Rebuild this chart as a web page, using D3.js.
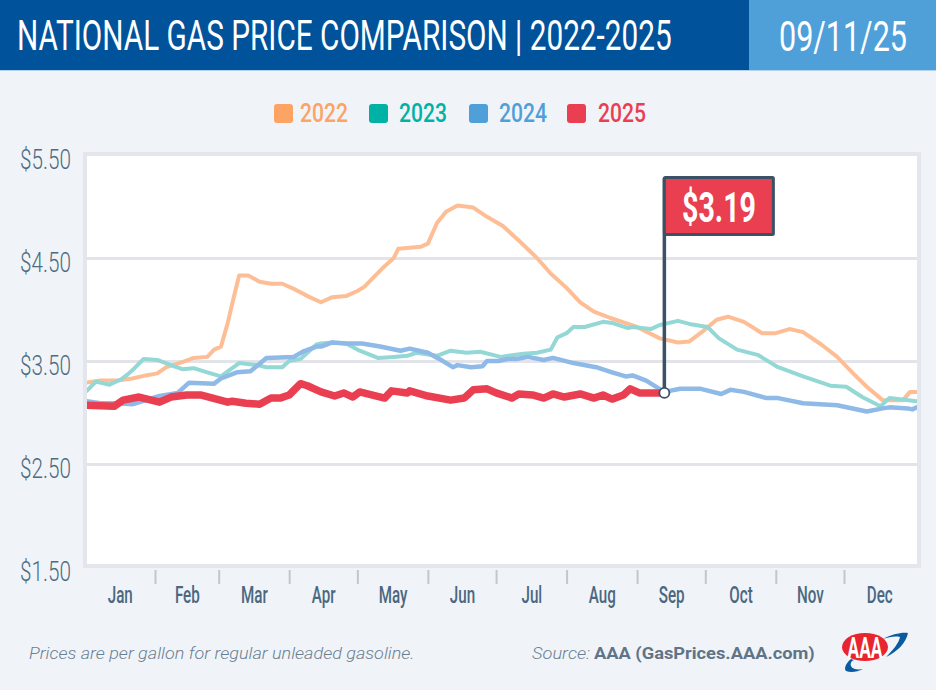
<!DOCTYPE html>
<html><head><meta charset="utf-8">
<script src="https://cdn.jsdelivr.net/npm/d3@7/dist/d3.min.js"></script>
<style>html,body{margin:0;padding:0;background:#f0f4f9}svg{display:block}text{font-family:Roboto,sans-serif}</style>
</head><body><div id="c"></div>
<script>
const months=["Jan","Feb","Mar","Apr","May","Jun","Jul","Aug","Sep","Oct","Nov","Dec"];
const monthEnds=[31,59,90,120,151,181,212,243,273,304,334];
const monthMids=[15.5,45,74.5,105,135.5,166,196.5,227.5,258,288.5,319,349.5];
const priceTicks=[1.5,2.5,3.5,4.5,5.5];
const years=["2022","2023","2024","2025"];
const days2022=[1,7,14,21,27,32,36,43,48,54,57,60,63,65,68,72,77,82,87,93,99,104,109,115,120,123,127,131,136,138,148,151,155,159,164,171,177,184,191,199,205,212,218,224,231,239,243,253,261,266,272,278,283,290,298,304,310,316,324,331,338,344,351,360,363,366];
const prices2022=[3.29,3.31,3.31,3.33,3.36,3.38,3.44,3.49,3.53,3.54,3.61,3.64,3.87,4.06,4.33,4.33,4.27,4.25,4.25,4.19,4.12,4.07,4.12,4.13,4.18,4.22,4.31,4.40,4.50,4.59,4.61,4.64,4.84,4.95,5.01,4.99,4.90,4.81,4.67,4.50,4.35,4.21,4.07,3.98,3.92,3.86,3.83,3.72,3.68,3.69,3.79,3.90,3.93,3.88,3.77,3.77,3.81,3.78,3.66,3.54,3.38,3.25,3.12,3.12,3.20,3.20];
const days2023=[1,5,11,16,19,22,26,32,38,43,48,54,60,63,68,76,80,87,90,95,102,104,109,115,121,129,136,142,146,155,161,168,174,183,193,199,205,208,212,215,220,228,232,239,241,249,253,261,266,274,279,287,296,305,316,328,335,342,350,354,366];
const prices2023=[3.21,3.30,3.27,3.32,3.37,3.43,3.52,3.51,3.46,3.42,3.43,3.39,3.35,3.40,3.48,3.46,3.44,3.44,3.50,3.52,3.66,3.67,3.68,3.67,3.60,3.53,3.54,3.55,3.58,3.55,3.60,3.58,3.59,3.54,3.57,3.58,3.61,3.73,3.77,3.83,3.83,3.88,3.87,3.82,3.83,3.81,3.85,3.89,3.86,3.83,3.72,3.61,3.56,3.44,3.35,3.26,3.25,3.15,3.06,3.14,3.11];
const days2024=[1,7,14,21,27,33,41,46,57,60,67,73,80,92,96,102,104,109,115,122,130,139,143,151,156,162,164,170,175,177,182,186,190,195,202,206,215,225,232,238,241,247,255,262,271,280,284,290,300,305,316,331,344,351,354,362,364,366];
const prices2024=[3.11,3.09,3.09,3.08,3.12,3.16,3.19,3.29,3.28,3.33,3.39,3.40,3.53,3.54,3.59,3.64,3.64,3.68,3.67,3.67,3.64,3.60,3.62,3.58,3.52,3.44,3.46,3.44,3.45,3.50,3.50,3.52,3.52,3.54,3.51,3.53,3.48,3.44,3.39,3.35,3.36,3.31,3.20,3.23,3.23,3.18,3.22,3.20,3.14,3.14,3.09,3.07,3.01,3.04,3.05,3.04,3.03,3.05];
const days2025=[1,13,17,24,33,38,45,51,63,65,71,77,82,86,90,95,98,104,110,114,118,121,132,135,142,143,151,161,167,171,177,181,188,191,197,202,206,211,218,224,228,232,237,240,244,255];
const prices2025=[3.07,3.06,3.12,3.15,3.10,3.15,3.17,3.17,3.10,3.11,3.09,3.08,3.14,3.14,3.17,3.28,3.26,3.20,3.16,3.19,3.15,3.20,3.14,3.21,3.19,3.21,3.16,3.12,3.14,3.22,3.23,3.19,3.14,3.18,3.17,3.14,3.18,3.15,3.18,3.14,3.17,3.13,3.17,3.23,3.19,3.19];
const currentDay=255, currentPrice=3.19;

const svg=d3.select("#c").append("svg").attr("width",936).attr("height",690);
svg.append("rect").attr("width",936).attr("height",690).attr("fill","#f0f4f9");
// text squeezed horizontally to a measured width
function fit(sel,px,py,w){
  const n=sel.node().getComputedTextLength();
  sel.attr("transform",`translate(${px},${py}) scale(${w/n},1)`);
  return sel;
}
// header
svg.append("rect").attr("width",749).attr("height",70).attr("fill","#00529b");
svg.append("rect").attr("x",749).attr("width",187).attr("height",70).attr("fill","#4f9fd9");
svg.append("rect").attr("y",70).attr("width",936).attr("height",1).attr("fill","#b5d0ea");
fit(svg.append("text").attr("fill","#fff").attr("font-size",42).attr("font-weight",400).text("NATIONAL GAS PRICE COMPARISON | 2022-2025"),17,50,655);
fit(svg.append("text").attr("fill","#fff").attr("font-size",42).attr("font-weight",400).text("09/11/25"),779,51,128);
// legend
const legendColors=["#fda364","#00b2a6","#4f9fd9","#e93f50"];
const legendSwatchX=[274,369,469,567], legendTextX=[300,399,499,598];
years.forEach((yr,i)=>{
  svg.append("rect").attr("x",legendSwatchX[i]).attr("y",104).attr("width",19).attr("height",19).attr("rx",3).attr("fill",legendColors[i]);
  fit(svg.append("text").attr("fill",legendColors[i]).attr("font-size",25).attr("font-weight",500).text(yr),legendTextX[i],122,48);
});
// scales
const x=d3.scaleLinear().domain([0,365]).range([84.5,914.5]);
const y=d3.scaleLinear().domain([1.5,5.5]).range([567,155]);
const L=87,R=917;
svg.append("rect").attr("x",L-2).attr("y",y(5.5)-1).attr("width",R-L+4).attr("height",y(1.5)-y(5.5)).attr("fill","#fff")
  .attr("stroke","#e3e6ec").attr("stroke-width",4);
const defs=svg.append("defs");
defs.append("clipPath").attr("id","plot").append("rect").attr("x",L).attr("y",150).attr("width",R-L).attr("height",415);
// gridlines
const grid=d3.axisLeft(y).tickValues([2.5,3.5,4.5]).tickSize(-(R-L)).tickFormat("");
const gg=svg.append("g").attr("transform",`translate(${L},0)`).call(grid);
gg.select(".domain").remove();
gg.selectAll("line").attr("stroke","#e3e4ea").attr("stroke-width",3);
// y labels
const ya=svg.append("g").attr("transform","translate(71,0)")
  .call(d3.axisLeft(y).tickValues(priceTicks).tickSize(0).tickPadding(0).tickFormat(d3.format("$.2f")));
ya.select(".domain").remove();
ya.selectAll("text").attr("fill","#4f6b80").attr("font-size",28).attr("font-weight",300).attr("dy",13)
  .attr("font-family","Roboto").attr("transform","scale(.74,1)");
// x ticks
const xt=svg.append("g").attr("transform","translate(0,570)")
  .call(d3.axisBottom(x).tickValues(monthEnds).tickSize(14).tickFormat(""));
xt.select(".domain").remove();
xt.selectAll("line").attr("stroke","#c3c7cc").attr("stroke-width",2);
const xl=svg.append("g").attr("transform","translate(0,603)")
  .call(d3.axisBottom(x).tickValues(monthMids).tickSize(0).tickPadding(0).tickFormat((d,i)=>months[i]));
xl.select(".domain").remove();
xl.selectAll("text").attr("fill","#4a6880").attr("font-size",23).attr("font-weight",500).attr("dy",0)
  .attr("font-family","Roboto").attr("y",0).attr("transform","scale(.66,1)");
// lines
const line=d3.line().x(d=>x(d[0])).y(d=>y(d[1])).curve(d3.curveLinear);
const series=[[days2022,prices2022,"#fdbe96",4],[days2023,prices2023,"#94d8d6",4],[days2024,prices2024,"#8fb9e7",4.5],[days2025,prices2025,"#e93f50",7.5]];
const pg=svg.append("g").attr("clip-path","url(#plot)");
series.forEach(([ds,ps,c,w])=>{
  pg.append("path").datum(d3.zip(ds,ps)).attr("d",line).attr("fill","none").attr("stroke",c).attr("stroke-width",w)
    .attr("stroke-linejoin","round").attr("stroke-linecap","round");
});
// flag
const fx=x(currentDay), fy=y(currentPrice);
svg.append("line").attr("x1",fx).attr("x2",fx).attr("y1",178).attr("y2",fy).attr("stroke","#3a5166").attr("stroke-width",3.5);
svg.append("rect").attr("x",fx).attr("y",177.5).attr("width",109).attr("height",57).attr("fill","#e93f50").attr("stroke","#3a5166").attr("stroke-width",3).attr("rx",1);
fit(svg.append("text").attr("fill","#fff").attr("font-size",42).attr("font-weight",700).text("$"+currentPrice.toFixed(2)),682,222,74);
svg.append("circle").attr("cx",fx).attr("cy",fy).attr("r",5).attr("fill","#fff").attr("stroke","#3a5166").attr("stroke-width",1.8);
// footer
fit(svg.append("text").attr("fill","#6a7f92").attr("font-size",16).attr("font-style","italic").attr("font-weight",300).text("Prices are per gallon for regular unleaded gasoline."),29,659,386);
fit(svg.append("text").attr("fill","#6a7f92").attr("font-size",16).attr("font-style","italic").attr("font-weight",300).text("Source:"),532,659,58);
fit(svg.append("text").attr("fill","#5f7488").attr("font-size",16).attr("font-weight",700).text("AAA (GasPrices.AAA.com)"),594,659,221);
// logo
const lg=svg.append("g");
lg.append("path").attr("d","M 883 639 C 892 634 902 632 908 633 C 906 643 897 652 886 657 C 893 650 899 643 900 637 C 895 636 889 637 883 639 Z").attr("fill","#0a5aa0");
lg.append("path").attr("d","M 851 659 C 845 664 844 669 846 671 C 851 673 857 672 863 669 C 857 670 852 669 851 666 C 850 664 851 661 854 660 Z").attr("fill","#0a5aa0");
lg.append("ellipse").attr("cx",865).attr("cy",647).attr("rx",23).attr("ry",14).attr("fill","#e8252f");
fit(svg.append("text").attr("fill","#fff").attr("font-size",29).attr("font-weight",700).text("AAA"),847.5,657.5,35);
</script></body></html>
